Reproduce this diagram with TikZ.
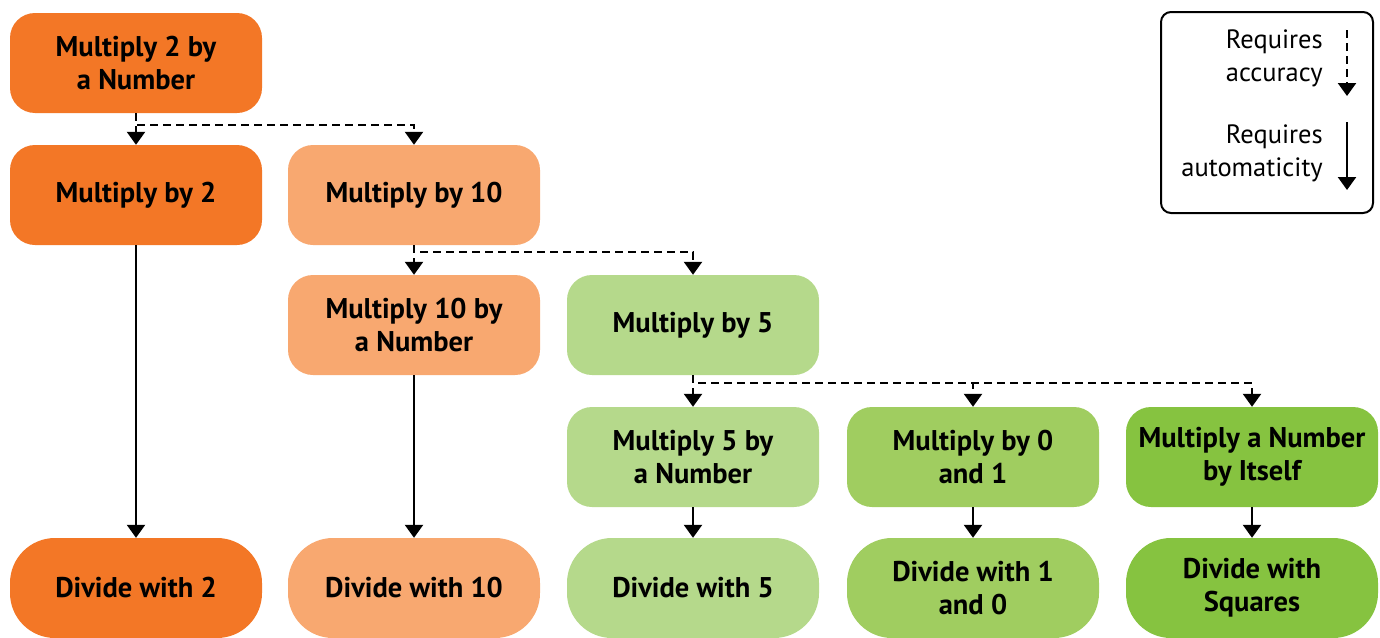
\documentclass[tikz,border=0pt]{standalone}
\usepackage{fontspec}
\setmainfont{PT Sans}
\usetikzlibrary{arrows.meta}

\definecolor{strongorange}{HTML}{F37726}
\definecolor{softorange}{HTML}{F8A870}
\definecolor{softgreen}{HTML}{B5D98B}
\definecolor{midgreen}{HTML}{A0CD60}
\definecolor{stronggreen}{HTML}{86C340}

\begin{document}
\begin{tikzpicture}[x=1pt, y=-1pt]

  \tikzset{
    box/.style={
      rounded corners=25pt,
      minimum width=252pt,
      minimum height=100pt,
      inner sep=0pt,
      align=center,
      font=\fontsize{28.5}{33}\selectfont\bfseries,
    },
    pill/.style={
      box,
      rounded corners=45pt,
    },
    link/.style={
      line width=2.4pt,
      -{Triangle[width=18pt,length=13pt]},
    },
    dashlink/.style={
      link,
      dash pattern=on 8pt off 5pt,
    },
    legendtext/.style={
      anchor=east,
      align=right,
      inner sep=0pt,
      font=\fontsize{26.5}{33}\selectfont,
    },
  }

  \useasboundingbox (0,0) rectangle (1380,637);

  % first column
  \node[box, fill=strongorange] (mtwonum) at (136,63) {Multiply 2 by\\a Number};
  \node[box, fill=strongorange] (mtwo) at (136,195) {Multiply by 2};
  \node[pill, fill=strongorange] (dtwo) at (136,588) {Divide with 2};

  % second column
  \node[box, fill=softorange] (mten) at (414,195) {Multiply by 10};
  \node[box, fill=softorange] (mtennum) at (414,325) {Multiply 10 by\\a Number};
  \node[pill, fill=softorange] (dten) at (414,588) {Divide with 10};

  % the greens
  \node[box, fill=softgreen] (mfive) at (693,325) {Multiply by 5};
  \node[box, fill=softgreen] (mfivenum) at (693,457) {Multiply 5 by\\a Number};
  \node[pill, fill=softgreen] (dfive) at (693,588) {Divide with 5};

  \node[box, fill=midgreen] (mzero) at (973,457) {Multiply by 0\\and 1};
  \node[pill, fill=midgreen] (done) at (973,588) {Divide with 1\\and 0};

  \node[box, fill=stronggreen] (msq) at (1252,457) {Multiply a Number\\by Itself};
  \node[pill, fill=stronggreen] (dsq) at (1252,588) {Divide with\\Squares};

  % accuracy links
  \draw[dashlink] (mtwonum.south) -- (mtwo.north);
  \draw[dashlink] (mtwonum.south) -- ++(0,12) -| (mten.north);
  \draw[dashlink] (mten.south) -- (mtennum.north);
  \draw[dashlink] (mten.south) -- ++(0,7) -| (mfive.north);
  \draw[dashlink] (mfive.south) -- (mfivenum.north);
  \draw[dashlink] (mfive.south) -- ++(0,8) -| (mzero.north);
  \draw[dashlink] (mfive.south) -- ++(0,8) -| (msq.north);

  % automaticity links
  \foreach \from/\to in {mtwo/dtwo, mtennum/dten, mfivenum/dfive, mzero/done, msq/dsq} {
    \draw[link] (\from.south) -- (\to.north);
  }

  % key
  \draw[line width=2pt, rounded corners=10pt] (1161,12) rectangle (1373,213);
  \node[legendtext] (acc) at (1323,58) {Requires\\accuracy};
  \node[legendtext] (aut) at (1323,153) {Requires\\automaticity};
  \coordinate (acctop) at (1347,30);
  \coordinate (accbot) at (1347,96);
  \coordinate (auttop) at (1347,122);
  \coordinate (autbot) at (1347,190);
  \draw[dashlink] (acctop) -- (accbot);
  \draw[link] (auttop) -- (autbot);

\end{tikzpicture}
\end{document}
